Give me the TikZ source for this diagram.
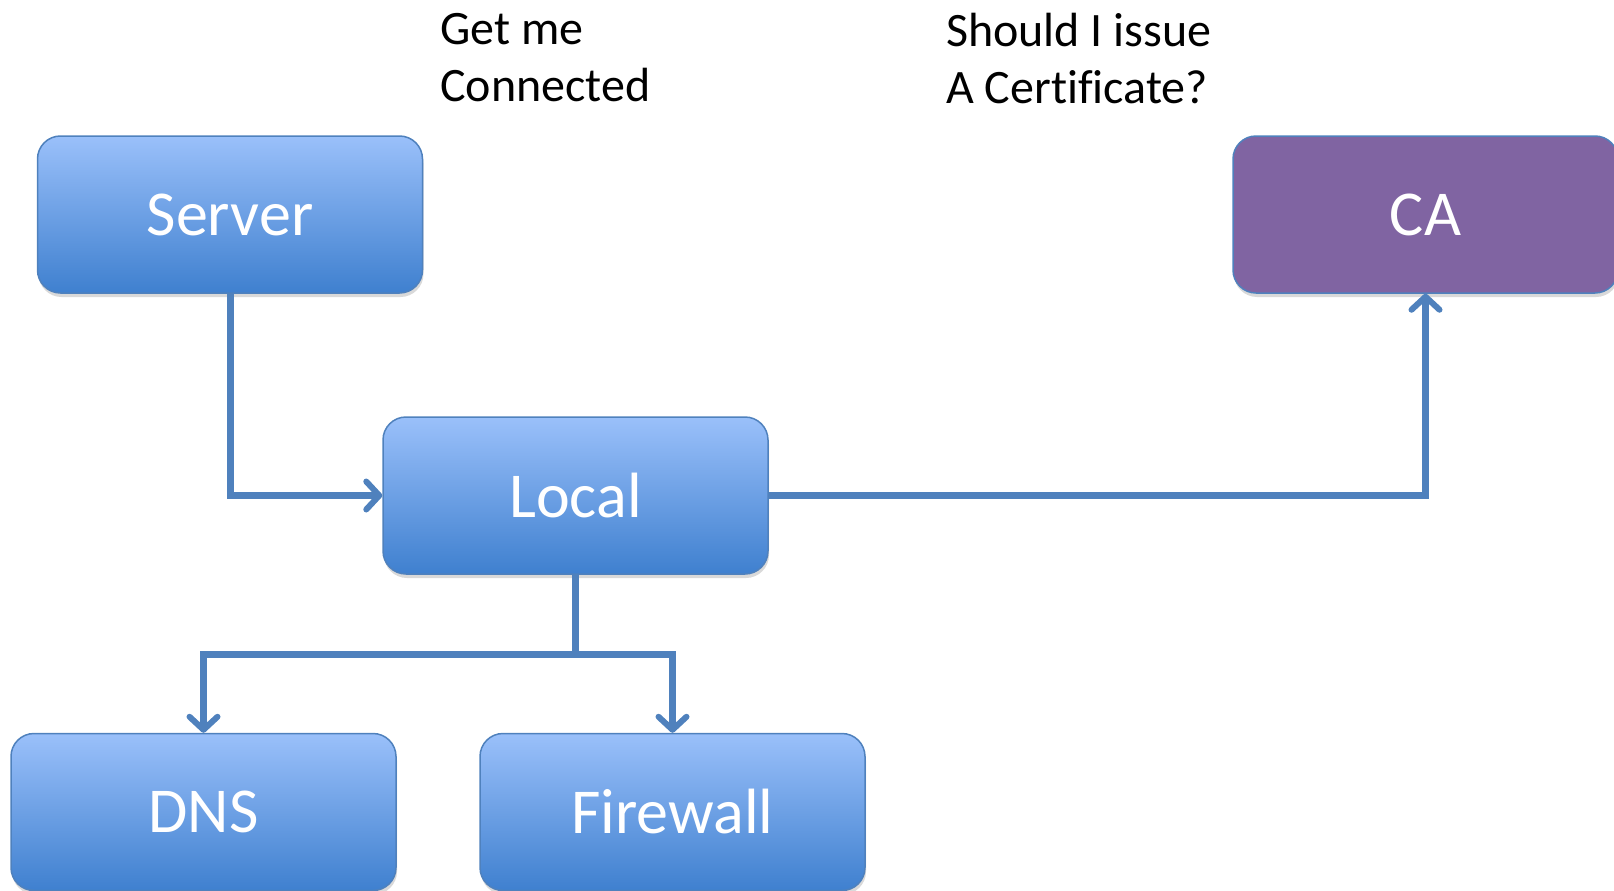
\documentclass[tikz,border=0pt]{standalone}
\usepackage{fontspec}
\setmainfont{Carlito}[Ligatures=NoCommon]
\usetikzlibrary{arrows.meta,shadows}

\definecolor{boxtop}{RGB}{154,192,250}
\definecolor{boxbot}{RGB}{63,128,207}
\definecolor{boxline}{RGB}{79,129,189}
\definecolor{capurple}{RGB}{128,100,162}

\tikzset{
	box/.style={draw=boxline, line width=1.5pt, rounded corners=23pt,
		minimum width=385pt, minimum height=157pt, inner sep=0pt,
		text=white, font=\fontsize{64}{70}\selectfont,
		drop shadow={opacity=0.3, shadow xshift=1pt, shadow yshift=-4pt}},
	bluebox/.style={box, top color=boxtop, bottom color=boxbot},
	purplebox/.style={box, fill=capurple},
	conn/.style={draw=boxline, line width=7pt},
	note/.style={align=left, inner sep=0pt, font=\fontsize{48}{57}\selectfont}
}

\begin{document}
\begin{tikzpicture}[x=1pt,y=-1pt,>={Straight Barb[length=13pt,width=28pt,line width=6pt,round]}]
			\useasboundingbox (0,0) rectangle (1614,891);
			\node[bluebox] (server) at (230,214.5) {Server};
			\node[bluebox] (local) at (575.5,495.5) {Local};
			\node[purplebox] (ca) at (1425.5,214.5) {CA};
			\node[bluebox] (dns) at (203.5,812) {DNS};
			\node[bluebox] (fw) at (672.5,812) {Firewall};
			\node[note, anchor=north west] (getme) at (440,13) {Get me\\Connected};
			\node[note, anchor=north west] (issue) at (946,13) {Should I issue\\A Certificate?};
			\coordinate (split) at (575.5,654);
			\draw[conn,->] (server.south) |- (local.west);
			\draw[conn,->] (local.east) -| (ca.south);
			\draw[conn] (local.south) -- (split);
			\draw[conn,->] (split) -| (dns.north);
			\draw[conn,->] (split) -| (fw.north);
		\end{tikzpicture}
\end{document}
